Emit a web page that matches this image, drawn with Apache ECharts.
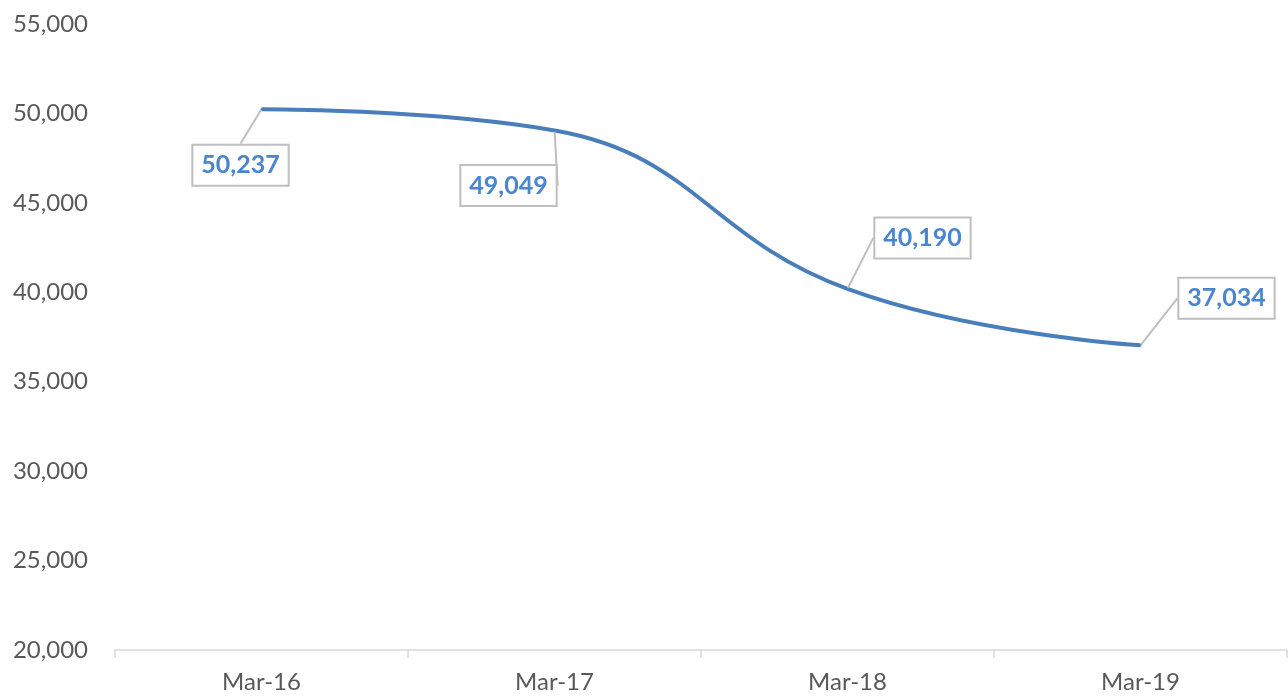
<!DOCTYPE html>
<html><head><meta charset="utf-8">
<script src="https://cdn.jsdelivr.net/npm/echarts@6/dist/echarts.min.js"></script>
<style>html,body{margin:0;padding:0;background:#fff}#c{width:1288px;height:697px}</style>
</head><body><div id="c"></div>
<script>
var categories = ['Mar-16', 'Mar-17', 'Mar-18', 'Mar-19'];
var values = [50237, 49049, 40190, 37034];
var labelOffsets = [[-21, 56], [-46, 55], [75, -51], [86, -47]];

var chart = echarts.init(document.getElementById('c'));
chart.setOption({
  animation: false,
  grid: { left: 115, right: 1, top: 24, bottom: 47 },
  xAxis: {
    type: 'category', data: categories, boundaryGap: true,
    axisLine: { lineStyle: { color: '#d9d9d9', width: 1.5 } },
    axisTick: { show: true, length: 8, lineStyle: { color: '#d9d9d9', width: 1.5 } },
    axisLabel: { color: '#595959', fontSize: 24, fontFamily: 'Lato', margin: 20 }
  },
  yAxis: {
    type: 'value', min: 20000, max: 55000, interval: 5000,
    splitLine: { show: false }, axisLine: { show: false }, axisTick: { show: false },
    axisLabel: {
      color: '#595959', fontSize: 24, fontFamily: 'Lato', margin: 27,
      formatter: function (v) { return v.toLocaleString('en-US'); }
    }
  },
  series: [{
    type: 'line', data: values, smooth: 0.45,
    symbol: 'circle', symbolSize: 2, showSymbol: true,
    itemStyle: { color: '#4a7ebb' },
    lineStyle: { color: '#4a7ebb', width: 4 },
    label: {
      show: true, position: 'inside',
      formatter: function (p) { return p.value.toLocaleString('en-US'); },
      color: '#4a86d0', fontSize: 25, fontWeight: 'bold', fontFamily: 'Lato',
      backgroundColor: '#fff', borderColor: '#bfbfbf', borderWidth: 2,
      padding: [8, 8, 6, 8]
    },
    labelLine: { show: true, lineStyle: { color: '#bfbfbf', width: 2 } },
    labelLayout: function (p) {
      var o = labelOffsets[p.dataIndex];
      return { dx: o[0], dy: o[1] };
    }
  }]
});
</script></body></html>
